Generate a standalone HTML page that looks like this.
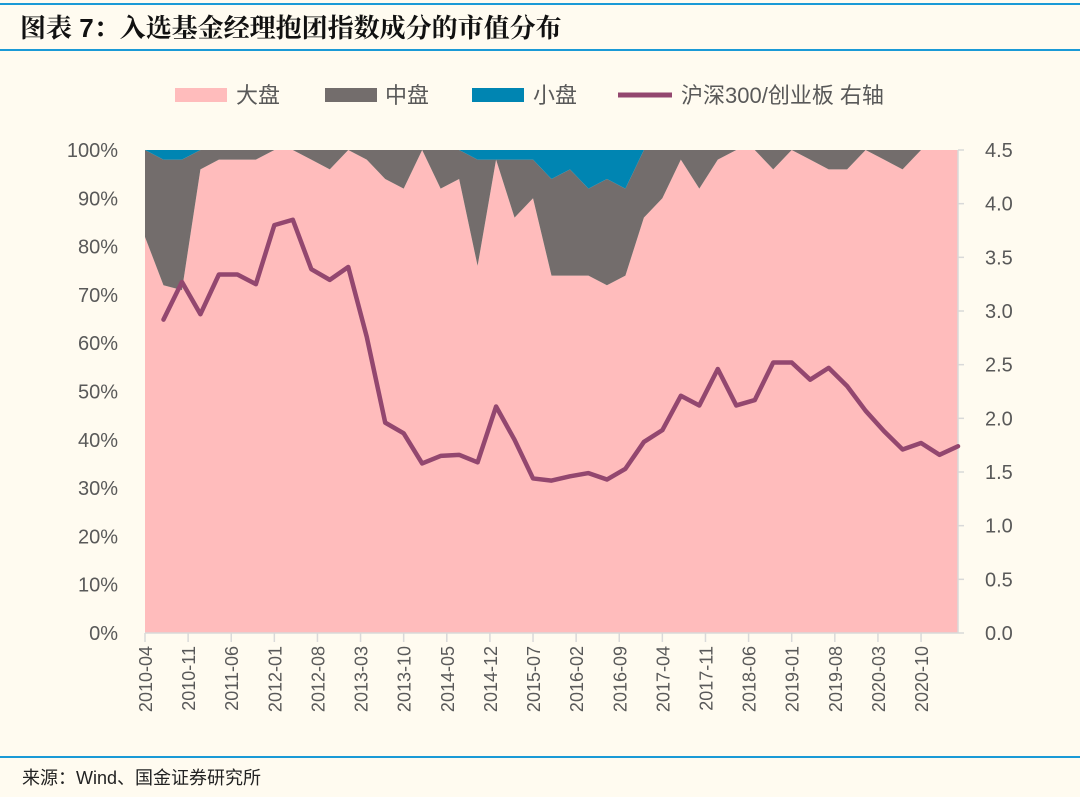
<!DOCTYPE html>
<html><head><meta charset="utf-8">
<style>
html,body{margin:0;padding:0;background:#fffbf0;}
body{width:1080px;height:792px;overflow:hidden;font-family:"Liberation Sans","Noto Sans CJK SC",sans-serif;}
</style></head>
<body>
<svg id="chart" width="1080" height="792" xmlns="http://www.w3.org/2000/svg" font-family="Liberation Sans, Noto Sans CJK SC, sans-serif">
  <rect width="1080" height="792" fill="#fffbf0"/>
  <line x1="0" y1="4" x2="1080" y2="4" stroke="#1a9ad6" stroke-width="2"/>
  <text x="20" y="37" font-size="26" font-weight="bold" fill="#111" font-family="Liberation Sans, Noto Serif CJK SC, serif">图表 7：入选基金经理抱团指数成分的市值分布</text>
  <line x1="0" y1="50" x2="1080" y2="50" stroke="#1a9ad6" stroke-width="2"/>
  <g font-size="22" fill="#595959">
    <rect x="175" y="88" width="52" height="14" fill="#ffbcbc"/>
    <text x="236" y="103">大盘</text>
    <rect x="325" y="88" width="52" height="14" fill="#736d6c"/>
    <text x="385" y="103">中盘</text>
    <rect x="472" y="88" width="52" height="14" fill="#0085b2"/>
    <text x="533" y="103">小盘</text>
    <line x1="618" y1="95" x2="672" y2="95" stroke="#93476f" stroke-width="5"/>
    <text x="681" y="103">沪深300/创业板 右轴</text>
  </g>
  <g id="plot"></g>
  <line x1="0" y1="757" x2="1080" y2="757" stroke="#1a9ad6" stroke-width="2"/>
  <text x="22" y="784" font-size="18" fill="#222">来源：Wind、国金证券研究所</text>
</svg>
<script>
const largeCap=[82,72,71,96,98,98,98,100,100,98,96,100,98,94,92,100,92,94,76,98,86,90,74,74,74,72,74,86,90,98,92,98,100,100,96,100,98,96,96,100,98,96,100,100,100];
const smallCap=[0,2,2,0,0,0,0,0,0,0,0,0,0,0,0,0,0,0,2,2,2,2,6,4,8,6,8,0,0,0,0,0,0,0,0,0,0,0,0,0,0,0,0,0,0];
const ratio=[null,2.92,3.27,2.97,3.34,3.34,3.25,3.80,3.85,3.39,3.29,3.41,2.76,1.96,1.86,1.58,1.65,1.66,1.59,2.11,1.80,1.44,1.42,1.46,1.49,1.43,1.53,1.78,1.89,2.21,2.12,2.46,2.12,2.17,2.52,2.52,2.36,2.47,2.30,2.07,1.88,1.71,1.77,1.66,1.74];
const xLabels=["2010-04","2010-11","2011-06","2012-01","2012-08","2013-03","2013-10","2014-05","2014-12","2015-07","2016-02","2016-09","2017-04","2017-11","2018-06","2019-01","2019-08","2020-03","2020-10"];
const leftTicks=[0,10,20,30,40,50,60,70,80,90,100];
const rightTicks=[0,0.5,1.0,1.5,2.0,2.5,3.0,3.5,4.0,4.5];

const NS="http://www.w3.org/2000/svg";
const plotG=document.getElementById('plot');
const X0=145,X1=958,Y0=633,Y1=150;
const n=largeCap.length;
const xi=i=>X0+i*(X1-X0)/(n-1);
const xm=m=>X0+(m/3)*(X1-X0)/(n-1);
const yl=v=>Y0-(v/100)*(Y0-Y1);
const yr=v=>Y0-(v/4.5)*(Y0-Y1);
function el(t,a){const e=document.createElementNS(NS,t);for(const k in a)e.setAttribute(k,a[k]);plotG.appendChild(e);return e;}

const topLine=largeCap.map((v,i)=>[xi(i),yl(100)]);
const midLine=largeCap.map((v,i)=>[xi(i),yl(100-smallCap[i])]);
const lowLine=largeCap.map((v,i)=>[xi(i),yl(v)]);
const baseLine=largeCap.map((v,i)=>[xi(i),yl(0)]);
function band(a,b){return 'M'+a.map(p=>p.join(',')).join('L')+'L'+b.slice().reverse().map(p=>p.join(',')).join('L')+'Z';}
const pLarge=el('path',{d:band(lowLine,baseLine),fill:'#ffbcbc'});


const pMid=el('path',{d:band(midLine,lowLine),fill:'#736d6c'});


const pSmall=el('path',{d:band(topLine,midLine),fill:'#0085b2'});



const ax=el('line',{x1:X0,y1:Y0,x2:X1,y2:Y0,stroke:'#d9d9d9','stroke-width':1.5});


const ra=el('line',{x1:X1,y1:Y1,x2:X1,y2:Y0,stroke:'#d9d9d9','stroke-width':1.5});



leftTicks.forEach(v=>{
  const t=el('text',{x:118,y:yl(v)+7,'text-anchor':'end','font-size':20,fill:'#595959'});
  t.textContent=v+'%';
  
  
});
rightTicks.forEach(v=>{
  const t=el('text',{x:985,y:yr(v)+7,'font-size':20,fill:'#595959'});
  t.textContent=v.toFixed(1);
  
  
  const k=el('line',{x1:X1,y1:yr(v),x2:X1+6,y2:yr(v),stroke:'#d9d9d9','stroke-width':1.5});
  
  
});
xLabels.forEach((s,i)=>{
  const x=xm(i*7);
  const k=el('line',{x1:x,y1:Y0,x2:x,y2:Y0+9,stroke:'#d9d9d9','stroke-width':1.5});
  
  
  const t=el('text',{x:0,y:0,'text-anchor':'end','font-size':18,fill:'#595959',transform:`translate(${x+7},${Y0+13}) rotate(-90)`});
  t.textContent=s;
  
  
});

let d='';
ratio.forEach((v,i)=>{if(v===null)return;d+=(d?'L':'M')+xi(i)+','+yr(v);});
const ln=el('path',{d:d,fill:'none',stroke:'#93476f','stroke-width':4.5,'stroke-linejoin':'round','stroke-linecap':'round'});


</script>
</body></html>
